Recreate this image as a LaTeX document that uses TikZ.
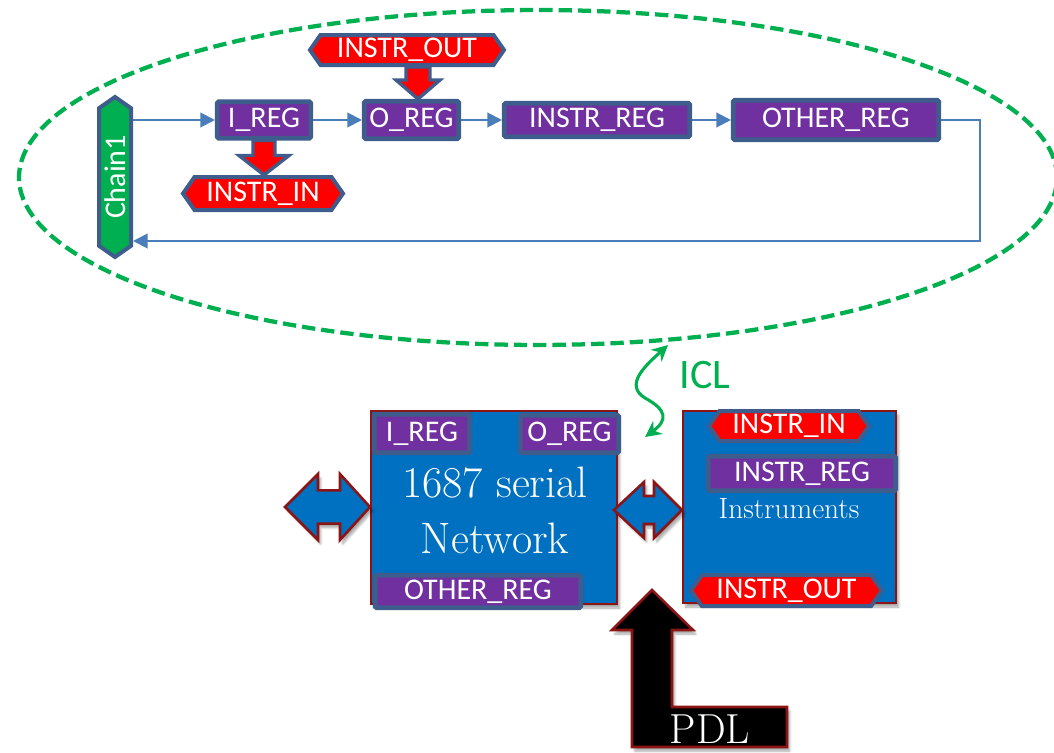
\documentclass[tikz,border=0pt]{standalone}
\usepackage{fontspec}
\newfontfamily\calib{Carlito}
\usetikzlibrary{shapes.symbols,arrows.meta,calc,shadows.blur}
\definecolor{bord}{HTML}{3E5C8C}
\definecolor{purp}{HTML}{7030A0}
\definecolor{lnblue}{HTML}{4A7EBB}
\definecolor{boxblue}{HTML}{0070C0}
\definecolor{dred}{HTML}{8C1414}
\definecolor{grn}{HTML}{00B050}
\definecolor{redf}{HTML}{FF0000}

\begin{document}
\begin{tikzpicture}[x=0.75pt,y=-0.75pt,
  dims/.style 2 args={minimum width=#1*0.75pt, minimum height=#2*0.75pt},
  lbl/.style={font=\calib\fontsize{22.5}{24}\selectfont, text=white},
  reg/.style={lbl, rectangle, draw=bord, fill=purp, line width=3.4pt,
              inner sep=0pt, outer sep=auto, rounded corners=1pt},
  hexa/.style={lbl, signal, signal to=west and east, signal pointer angle=110,
               draw=bord, fill=redf, line width=3pt, inner sep=0pt, outer sep=auto},
  link/.style={draw=lnblue, line width=1.5pt, -{Triangle[length=11pt,width=11pt]}},
  blk/.style={fill=redf, draw=bord, line width=2.5pt, line join=miter},
  bigbox/.style={rectangle, fill=boxblue, draw=dred, line width=1.5pt, inner sep=0pt,
                 blur shadow={shadow xshift=2pt, shadow yshift=-3pt, shadow opacity=35, shadow blur steps=6}},
  dbl/.style={fill=boxblue, draw=dred, line width=1.9pt, line join=miter,
              blur shadow={shadow xshift=2pt, shadow yshift=-3pt, shadow opacity=35, shadow blur steps=6}},
  serif/.style={text=white, inner sep=0pt, anchor=base},
  icl/.style={draw=grn, line width=2.3pt, {Stealth[length=12pt,width=12pt]}-{Stealth[length=12pt,width=12pt]}}
]
\useasboundingbox (0,0) rectangle (1054,753);

% ---------------- scan chain (ICL view) ----------------
\draw[grn, line width=3.2pt, dash pattern=on 10pt off 4.5pt]
  (538,177.5) ellipse [x radius=389.25pt, y radius=125.6pt];

\node[hexa, fill=grn, rotate=90, dims={160}{32}] (chain) at (115,177) {Chain1};
\node[reg, dims={93.5}{36.5}]  (ireg)     at (264,120)   {I\_REG};
\node[reg, dims={94.5}{37.5}]  (oreg)     at (411.5,120) {O\_REG};
\node[reg, dims={185.5}{33.5}] (instrreg) at (597,120)   {INSTR\_REG};
\node[reg, dims={205.5}{39.5}] (otherreg) at (836,120)   {OTHER\_REG};
\node[hexa, dims={194}{30}]    (instrout) at (407,50)    {INSTR\_OUT};
\node[hexa, dims={160}{33}]    (instrin)  at (263,193.5) {INSTR\_IN};

\draw[link] (chain.south |- ireg.west) -- (ireg.west);
\draw[link] (ireg.east) -- (oreg.west);
\draw[link] (oreg.east) -- (instrreg.west);
\draw[link] (instrreg.east) -- (otherreg.west);
\coordinate (turn) at (980,241);
\draw[link] (otherreg.east) -| (turn) -- (turn -| chain.south);

% I_REG feeds INSTR_IN
\coordinate (ia) at (ireg.south);
\draw[blk] ($(ia)+(-11,0)$) -- ($(ia)+(-11,15)$) -- ($(ia)+(-25,15)$)
  -- (ia |- instrin.north) -- ($(ia)+(25,15)$) -- ($(ia)+(11,15)$)
  -- ($(ia)+(11,0)$) -- cycle;
% INSTR_OUT feeds O_REG
\coordinate (ob) at ($(oreg.north)+(6.5,0)$);
\coordinate (ot) at (ob |- instrout.south);
\draw[blk] ($(ot)+(-12,0)$) -- ($(ot)+(-12,13)$) -- ($(ot)+(-22,13)$)
  -- (ob) -- ($(ot)+(22,13)$) -- ($(ot)+(12,13)$) -- ($(ot)+(12,0)$) -- cycle;

% ---------------- ICL link ----------------
\coordinate (iclA) at (668,345);
\coordinate (iclB) at (645,437);
\draw[icl] (iclA) .. controls (645,366) and (624,385) .. (645,398)
                  .. controls (667,410) and (668,420) .. (iclB);
\node[font=\calib\fontsize{31.5}{34}\selectfont, text=grn, anchor=base, inner sep=0pt]
  (icltxt) at (705,388) {ICL};

% ---------------- 1687 serial network ----------------
\node[bigbox, dims={246}{193}] (net) at (494,507.5) {};
\node[reg, dims={95.5}{38.5}]  (nireg)   at (422,433.5) {I\_REG};
\node[reg, dims={98.5}{37.5}]  (noreg)   at (569.5,434) {O\_REG};
\node[reg, dims={205.5}{32.5}] (nother)  at (478,591.5) {OTHER\_REG};
\node[serif, font=\fontsize{33}{36}\selectfont] (t1687) at (495,497) {1687 serial};
\node[serif, font=\fontsize{33}{36}\selectfont] (tnet)  at (495,553) {Network};

% ---------------- instruments ----------------
\node[bigbox, dims={213}{192}] (instr) at (789.5,507) {};
\node[hexa, dims={160}{30}]    (iin)   at (789,426)   {INSTR\_IN};
\node[reg, dims={187.5}{34.5}] (ireg2) at (802,473.5) {INSTR\_REG};
\node[hexa, dims={191}{31}]    (iout)  at (786.5,590.5) {INSTR\_OUT};
\node[serif, font=\fontsize{22}{24}\selectfont] (tinstr) at (789,518) {Instruments};

% ---------------- port arrows ----------------
\coordinate (lend) at (285,507);
\draw[dbl] let \p1=(lend), \p2=(net.west) in
  (\x1,\y1) -- (\x1+24.75pt,\y1+24.75pt) -- (\x1+24.75pt,\y1+12.4pt)
  -- (\x2-22.5pt,\y1+12.4pt) -- (\x2-22.5pt,\y1+24.75pt) -- (\x2,\y1)
  -- (\x2-22.5pt,\y1-24.75pt) -- (\x2-22.5pt,\y1-12.4pt)
  -- (\x1+24.75pt,\y1-12.4pt) -- (\x1+24.75pt,\y1-24.75pt) -- cycle;

\draw[dbl] let \p1=($(net.east)+(-4,2.5)$), \p2=(instr.west) in
  (\x1,\y1) -- (\x1+22.5pt,\y1+21pt) -- (\x1+22.5pt,\y1+10.5pt)
  -- (\x2-21pt,\y1+10.5pt) -- (\x2-21pt,\y1+21pt) -- (\x2,\y1)
  -- (\x2-21pt,\y1-21pt) -- (\x2-21pt,\y1-10.5pt)
  -- (\x1+22.5pt,\y1-10.5pt) -- (\x1+22.5pt,\y1-21pt) -- cycle;

% ---------------- PDL access ----------------
\coordinate (ptip) at (652,590);
\draw[dbl, fill=black] (ptip) -- ++(41,40) -- ++(-21,0) -- ++(0,77) -- ++(115,0)
  -- ++(0,40) -- ++(-155,0) -- ++(0,-117) -- ++(-20,0) -- cycle;
\node[serif, font=\fontsize{31.5}{34}\selectfont] (tpdl) at (710,743) {PDL};

\end{tikzpicture}
\end{document}
